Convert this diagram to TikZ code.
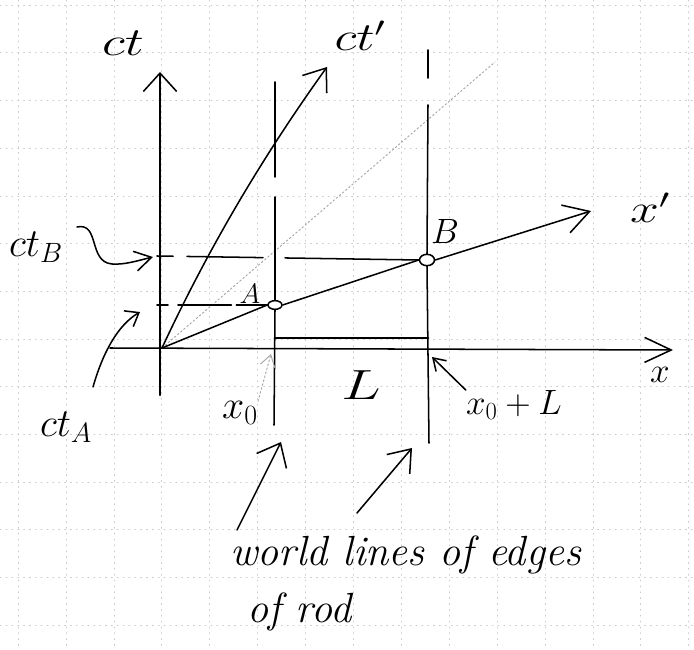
\RequirePackage{fix-cm}
\documentclass[tikz,border=0pt]{standalone}
\usetikzlibrary{arrows.meta,shapes.geometric}
\begin{document}
\begin{tikzpicture}[x=0.03cm,y=-0.03cm, line cap=round, line join=round,
  ink/.style={line width=1.3pt, black},
  heavy/.style={line width=2.3pt, black},
  faint/.style={line width=0.8pt, gray!70, dash pattern=on 1.5pt off 2pt},
  gridline/.style={gray!40, line width=0.5pt, dash pattern=on 1pt off 4pt},
  lab/.style={inner sep=0pt, font=\fontsize{34}{40}\selectfont},
  smalllab/.style={inner sep=0pt, font=\fontsize{24}{30}\selectfont},
  txt/.style={inner sep=0pt, anchor=base west, font=\fontsize{36}{42}\selectfont\itshape},
  pt/.style={draw, ellipse, line width=1.3pt, inner sep=0pt},
  dashA/.style={ink, dash pattern=on 0.33cm off 0.3cm on 1.6cm off 0.15cm on 3cm off 0.1cm},
  dashB/.style={ink, dash pattern=on 0.48cm off 0.42cm on 2.28cm off 0.66cm on 6cm off 0.1cm}
]
\useasboundingbox (0,0) rectangle (694,650);
% grid paper
\foreach \k in {0,...,13} \draw[gridline] (0,{5+47.7*\k}) -- (694,{5+47.7*\k});
\foreach \k in {0,...,14} \draw[gridline] ({18+47.9*\k},0) -- ({18+47.9*\k},650);

% key points
\coordinate (O) at (162,348);
\coordinate (ctbot) at (160,395);
\coordinate (cttip) at (160,72);
\coordinate (xleft) at (110,348);
\coordinate (xtip) at (673,350);
\coordinate (cpt) at (327,67);
\coordinate (xpt) at (591,211);
\coordinate (cone) at (495,62);
\node[pt, minimum width=0.42cm, minimum height=0.26cm] (A) at (275,305) {};
\node[pt, minimum width=0.45cm, minimum height=0.34cm] (B) at (427,260) {};

% light cone (faint)
\draw[faint] (O) -- (cone);

% axes
\draw[heavy, line width=2pt, -{Straight Barb[length=0.55cm,width=1.0cm,line width=1.3pt]}] (ctbot) -- (cttip);
\draw[ink, -{Straight Barb[length=0.8cm,width=0.75cm,line width=1.3pt]}] (xleft) -- (xtip);
\draw[ink, -{Straight Barb[length=0.6cm,width=0.9cm,line width=1.3pt]}] (O) .. controls (208,249) and (263,156) .. (cpt);
\draw[ink] (O) -- (A.west);
\draw[ink] (A.east) -- (B.west);
\draw[ink, -{Straight Barb[length=0.75cm,width=0.87cm,line width=1.3pt]}] (B.east) -- (xpt);

% dashed projections
\draw[dashA] (157,305) -- (A.west);
\draw[dashB] (157,256) -- (B.west);

% world lines of rod edges
\coordinate (w1a) at (275,82);  \coordinate (w1b) at (275,177);
\coordinate (w1c) at (275,197); \coordinate (w1d) at (274,425);
\coordinate (w2a) at (428,50);  \coordinate (w2b) at (428,78);
\coordinate (w2c) at (428,105); \coordinate (w2d) at (429,443);
\draw[ink] (w1a) -- (w1b);
\draw[ink] (w1c) -- (A.north);
\draw[ink] (A.south) -- (w1d);
\draw[ink] (w2a) -- (w2b);
\draw[ink] (w2c) -- (B.north);
\draw[ink] (B.south) -- (w2d);

% rod length bar
\coordinate (L1) at (275,338);
\coordinate (L2) at (428,338);
\draw[heavy] (L1) -- (L2);

% labels
\node[lab, xscale=1.35] (ctl) at (123,43) {$ct$};
\node[lab, xscale=1.3] (ctpl) at (360,36) {$ct'$};
\node[lab, xscale=1.3] (xpl) at (650,208) {$x'$};
\node[lab] (ctB) at (36,247) {$ct_B$};
\node[lab] (ctA) at (66,427) {$ct_A$};
\node[smalllab] (Al) at (250,294) {$A$};
\node[smalllab, font=\fontsize{30}{36}\selectfont] (Bl) at (445,231) {$B$};
\node[lab] (x0) at (240,413) {$x_0$};
\node[lab, font=\fontsize{36}{44}\selectfont, xscale=1.4] (Ll) at (361,385) {$L$};
\node[smalllab, font=\fontsize{30}{36}\selectfont] (x0L) at (514,405) {$x_0+L$};
\node[smalllab, font=\fontsize{30}{34}\selectfont] (xl) at (660,375) {$x$};

% pointer arrows
\draw[ink, -{Straight Barb[length=0.5cm,width=0.6cm,line width=1.3pt]}]
  (77,227) .. controls (100,222) and (88,262) .. (112,264)
  .. controls (125,265) and (140,260) .. (153,257);
\draw[ink, -{Straight Barb[length=0.36cm,width=0.55cm,line width=1.3pt]}]
  (93,387) .. controls (103,352) and (118,325) .. (140,312);
\draw[faint, -{Straight Barb[length=0.35cm,width=0.45cm,line width=0.8pt]}] (x0.north east) -- (271,354);
\draw[ink, -{Straight Barb[length=0.35cm,width=0.45cm,line width=1.3pt]}] (x0L.north west) -- (432,357);

% caption
\node[txt] (cap1) at (230,565) {world lines of edges};
\node[txt] (cap2) at (247,622) {of rod};
\coordinate (t1) at (281,442);
\coordinate (t2) at (412,448);
\draw[ink, -{Straight Barb[length=0.6cm,width=1.0cm,line width=1.3pt]}] (237,530) -- (t1);
\draw[ink, -{Straight Barb[length=0.6cm,width=0.9cm,line width=1.3pt]}] (357,513) -- (t2);
\end{tikzpicture}
\end{document}
